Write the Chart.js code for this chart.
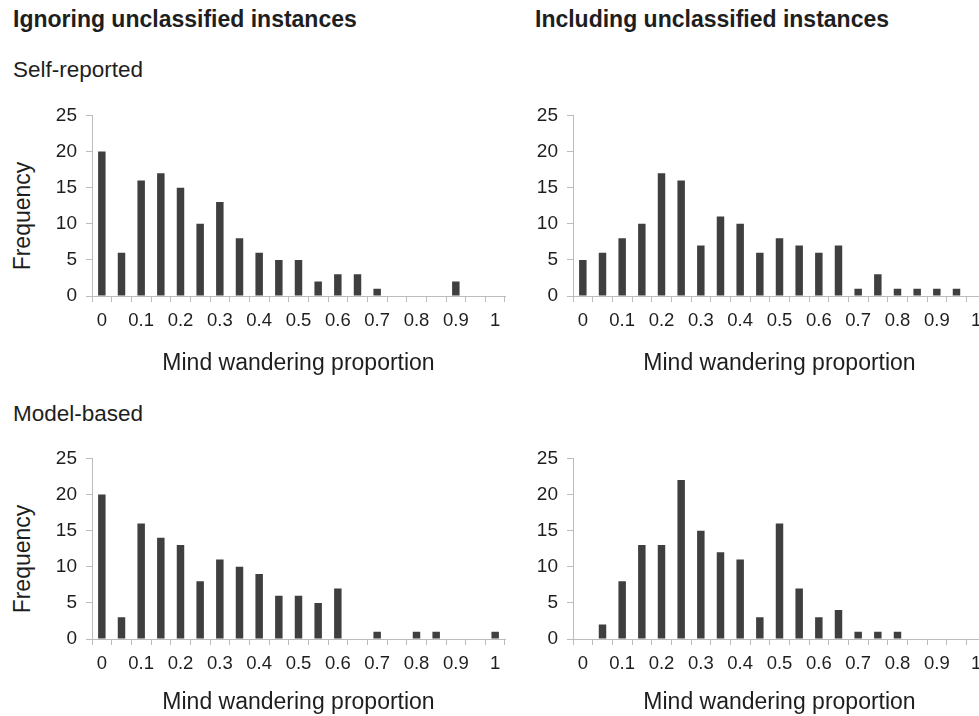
<!DOCTYPE html>
<html>
<head>
<meta charset="utf-8">
<script src="https://cdn.jsdelivr.net/npm/chart.js@4/dist/chart.umd.min.js"></script>
<style>
  html, body { margin: 0; padding: 0; background: #fff; overflow: hidden; }
  body { width: 979px; height: 716px; position: relative; font-family: "Liberation Sans", Arial, sans-serif; color: #1e1e1e; }
  .txt { position: absolute; white-space: nowrap; line-height: 23px; font-size: 22.5px; }
  .head { font-weight: bold; font-size: 23px; }
  .ylab { position: absolute; white-space: nowrap; font-size: 23px; line-height: 23px; transform: translate(-50%, -50%) rotate(-90deg); }
  .box { position: absolute; width: 520px; height: 285px; }
</style>
</head>
<body>
<div class="txt head" style="left:13px; top:8px;">Ignoring unclassified instances</div>
<div class="txt head" style="left:535px; top:8px;">Including unclassified instances</div>
<div class="txt" style="left:13px; top:58px;">Self-reported</div>
<div class="txt" style="left:13px; top:402px;">Model-based</div>
<div class="ylab" style="left:22px; top:216px;">Frequency</div>
<div class="ylab" style="left:22px; top:559px;">Frequency</div>

<div class="box" style="left:0px; top:95px;"><canvas id="selfIgnoring"></canvas></div>
<div class="box" style="left:481px; top:95px;"><canvas id="selfIncluding"></canvas></div>
<div class="box" style="left:0px; top:438px;"><canvas id="modelIgnoring"></canvas></div>
<div class="box" style="left:481px; top:438px;"><canvas id="modelIncluding"></canvas></div>

<script>
// Histogram bins of the mind wandering proportion (width 0.05)
const bins = ['0','0.05','0.1','0.15','0.2','0.25','0.3','0.35','0.4','0.45','0.5',
              '0.55','0.6','0.65','0.7','0.75','0.8','0.85','0.9','0.95','1'];
// Labels printed under the axis (every other bin)
const binLabels = ['0','','0.1','','0.2','','0.3','','0.4','','0.5',
                   '','0.6','','0.7','','0.8','','0.9','','1'];
const frequencyTicks = [0, 5, 10, 15, 20, 25];

// Frequencies per bin
const selfReportedIgnoring  = [20, 6, 16, 17, 15, 10, 13, 8, 6, 5, 5, 2, 3, 3, 1, 0, 0, 0, 2, 0, 0];
const selfReportedIncluding = [5, 6, 8, 10, 17, 16, 7, 11, 10, 6, 8, 7, 6, 7, 1, 3, 1, 1, 1, 1, 0];
const modelBasedIgnoring    = [20, 3, 16, 14, 13, 8, 11, 10, 9, 6, 6, 5, 7, 0, 1, 0, 1, 1, 0, 0, 1];
const modelBasedIncluding   = [0, 2, 8, 13, 13, 22, 15, 12, 11, 3, 16, 7, 3, 4, 1, 1, 1, 0, 0, 0, 0];

const axisTitle = 'Mind wandering proportion';
const barColor = '#3f3f3f';
const axisColor = '#bcbcbc';
const textColor = '#1e1e1e';
const fontFamily = '"Liberation Sans", Arial, sans-serif';

function histogram(id, values, titleGap) {
  new Chart(document.getElementById(id), {
    type: 'bar',
    data: {
      labels: bins,
      datasets: [{
        data: values,
        backgroundColor: barColor,
        borderWidth: 0,
        barPercentage: 0.38,
        categoryPercentage: 1.0
      }]
    },
    options: {
      responsive: true,
      maintainAspectRatio: false,
      animation: false,
      events: [],
      layout: { padding: { top: 15, right: 15, bottom: 0, left: 0 } },
      plugins: { legend: { display: false }, tooltip: { enabled: false } },
      scales: {
        x: {
          type: 'category',
          offset: true,
          afterFit: s => { s.height = 84; },
          grid: { display: true, offset: true, drawOnChartArea: false, drawTicks: true,
                  tickLength: 6, color: axisColor, lineWidth: 1 },
          border: { display: true, color: axisColor, width: 1 },
          ticks: {
            autoSkip: false, maxRotation: 0, minRotation: 0, padding: 8,
            color: textColor,
            font: { family: fontFamily, size: 18.5 },
            callback: (v, i) => binLabels[i]
          },
          title: {
            display: true, text: axisTitle, color: textColor,
            font: { family: fontFamily, size: 23 },
            padding: { top: 0, bottom: titleGap }
          }
        },
        y: {
          min: 0, max: 25,
          afterFit: s => { s.width = 92; },
          afterBuildTicks: s => { s.ticks = frequencyTicks.map(v => ({ value: v })); },
          grid: { display: true, drawOnChartArea: false, drawTicks: true,
                  tickLength: 6, color: axisColor, lineWidth: 1 },
          border: { display: true, color: axisColor, width: 1 },
          ticks: {
            padding: 9, color: textColor,
            font: { family: fontFamily, size: 19 }
          }
        }
      }
    }
  });
}

histogram('selfIgnoring', selfReportedIgnoring, 3);
histogram('selfIncluding', selfReportedIncluding, 3);
histogram('modelIgnoring', modelBasedIgnoring, 7);
histogram('modelIncluding', modelBasedIncluding, 7);
</script>
</body>
</html>
